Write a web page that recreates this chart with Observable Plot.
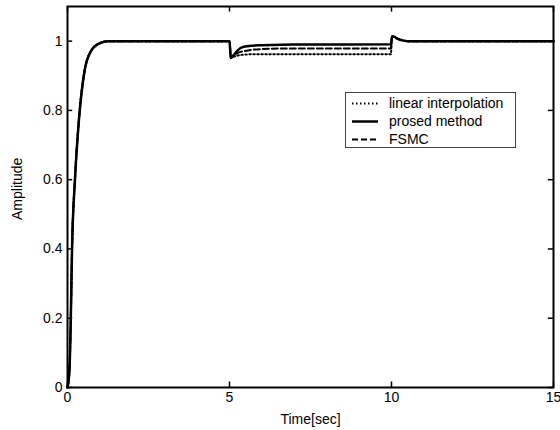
<!DOCTYPE html>
<html>
<head>
<meta charset="utf-8">
<script src="https://cdn.jsdelivr.net/npm/d3@7"></script>
<script src="https://cdn.jsdelivr.net/npm/@observablehq/plot@0.6"></script>
<style>
  html, body { margin: 0; padding: 0; background: #fff; }
  #wrap { position: relative; width: 560px; height: 430px; font-family: "Liberation Sans", Arial, sans-serif; }
  #legend { position: absolute; left: 345px; top: 92px; width: 171px; height: 56px; border: 1px solid #444; background: #fff; box-sizing: border-box; }
  .row { position: absolute; left: 0; height: 18px; font-size: 14px; line-height: 18px; color: #000; }
  .row svg { position: absolute; left: 6px; top: 0; }
  .row span { position: absolute; left: 43px; white-space: nowrap; }
</style>
</head>
<body>
<div id="wrap"></div>
<script>
// ---- data ----
const time =      [0, 0.06, 0.10, 0.14, 0.23, 0.35, 0.53, 0.71, 0.97, 1.27, 3.0, 5.0, 5.04, 5.10, 5.24, 5.34, 5.44, 5.7, 6.0, 7.0, 8.5, 9.98, 10.02, 10.08, 10.18, 10.3, 10.5, 11.0, 13.0, 15.0];
const linearInterp = [0, 0.05, 0.19, 0.40, 0.60, 0.77, 0.916, 0.969, 0.993, 1.0, 1.0, 1.0, 0.952, 0.954, 0.958, 0.960, 0.961, 0.962, 0.962, 0.962, 0.962, 0.962, 1.012, 1.012, 1.007, 1.003, 1.0, 1.0, 1.0, 1.0];
const proposed =     [0, 0.05, 0.19, 0.40, 0.60, 0.77, 0.916, 0.969, 0.993, 1.0, 1.0, 1.0, 0.952, 0.957, 0.972, 0.980, 0.984, 0.987, 0.988, 0.990, 0.990, 0.991, 1.014, 1.013, 1.007, 1.003, 1.0, 1.0, 1.0, 1.0];
const fsmc =         [0, 0.05, 0.19, 0.40, 0.60, 0.77, 0.916, 0.969, 0.993, 1.0, 1.0, 1.0, 0.952, 0.955, 0.965, 0.969, 0.971, 0.975, 0.977, 0.979, 0.979, 0.979, 1.013, 1.012, 1.007, 1.003, 1.0, 1.0, 1.0, 1.0];
const seriesNames = ["linear interpolation", "prosed method", "FSMC"];
const xTicks = [0, 5, 10, 15];
const yTicks = [0, 0.2, 0.4, 0.6, 0.8, 1];
const xLabel = "Time[sec]";
const yLabel = "Amplitude";

const mk = (vals, name) => time.map((t, i) => ({t, v: vals[i], name}));
const dLin = mk(linearInterp, seriesNames[0]);
const dPro = mk(proposed, seriesNames[1]);
const dFs = mk(fsmc, seriesNames[2]);

const chart = Plot.plot({
  width: 560,
  height: 430,
  marginLeft: 67,
  marginRight: 7,
  marginTop: 6,
  marginBottom: 43,
  style: { fontFamily: "Liberation Sans, Arial, sans-serif", fontSize: "14px", background: "#fff", color: "#000" },
  x: { domain: [0, 15], label: null },
  y: { domain: [0, 1.1], label: null },
  marks: [
    Plot.line(dLin, { x: "t", y: "v", stroke: "#000", strokeWidth: 2, strokeDasharray: "1.5,2.5", curve: "monotone-x" }),
    Plot.line(dFs, { x: "t", y: "v", stroke: "#000", strokeWidth: 2, strokeDasharray: "6,3", curve: "monotone-x" }),
    Plot.line(dPro, { x: "t", y: "v", stroke: "#000", strokeWidth: 2.5, curve: "monotone-x" }),
    // inward ticks on all four sides
    Plot.ruleX(xTicks, { x: d => d, y1: 0, y2: 0.016, stroke: "#000", strokeWidth: 1.5 }),
    Plot.ruleX(xTicks, { x: d => d, y1: 1.1, y2: 1.084, stroke: "#000", strokeWidth: 1.5 }),
    Plot.ruleY(yTicks, { y: d => d, x1: 0, x2: 0.16, stroke: "#000", strokeWidth: 1.5 }),
    Plot.ruleY(yTicks, { y: d => d, x1: 15, x2: 14.84, stroke: "#000", strokeWidth: 1.5 }),
    Plot.axisX(xTicks, { tickSize: 0, tickPadding: 5, tickFormat: d => String(d), label: null }),
    Plot.axisY(yTicks, { tickSize: 0, tickPadding: 5, tickFormat: d => String(d), label: null }),
    Plot.frame({ stroke: "#000", strokeWidth: 2 }),
    Plot.text([xLabel], { frameAnchor: "bottom", dy: 32, lineAnchor: "middle", text: d => d, fill: "#000" }),
    Plot.text([yLabel], { frameAnchor: "left", dx: -50, dy: 23, rotate: -90, text: d => d, fill: "#000" })
  ]
});
const wrap = document.getElementById("wrap");
wrap.appendChild(chart);

// legend
const legend = document.createElement("div");
legend.id = "legend";
const dashes = ["1.5,2.5", null, "6,3"];
const widths = [2, 2.5, 2];
seriesNames.forEach((name, i) => {
  const row = document.createElement("div");
  row.className = "row";
  row.style.top = (1 + i * 18) + "px";
  row.innerHTML = `<svg width="26" height="18"><line x1="0" x2="26" y1="9.5" y2="9.5" stroke="#000" stroke-width="${widths[i]}" ${dashes[i] ? `stroke-dasharray="${dashes[i]}"` : ""}/></svg><span>${name}</span>`;
  legend.appendChild(row);
});
wrap.appendChild(legend);
</script>
</body>
</html>
